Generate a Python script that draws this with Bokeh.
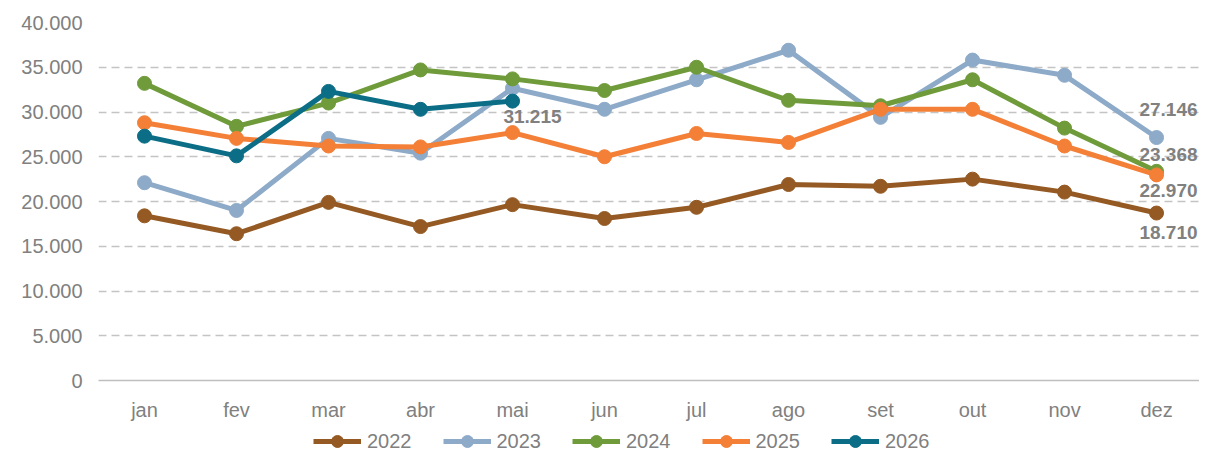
from bokeh.plotting import figure
from bokeh.models import (ColumnDataSource, Range1d, FixedTicker, Legend, LegendItem,
                          CustomJSTickFormatter)
from bokeh.layouts import column
from bokeh.core.properties import value
from bokeh.embed import file_html
from bokeh.resources import INLINE

months = ["jan", "fev", "mar", "abr", "mai", "jun", "jul", "ago", "set", "out", "nov", "dez"]
y2022 = [18400, 16400, 19900, 17200, 19650, 18100, 19350, 21900, 21700, 22500, 21050, 18710]
y2023 = [22100, 19000, 27050, 25400, 32650, 30300, 33600, 36900, 29400, 35800, 34100, 27146]
y2024 = [33200, 28400, 31000, 34700, 33700, 32400, 35000, 31300, 30700, 33600, 28200, 23368]
y2025 = [28800, 27050, 26200, 26100, 27700, 25000, 27600, 26600, 30300, 30300, 26200, 22970]
y2026 = [27300, 25100, 32300, 30300, 31215]
years = ["2022", "2023", "2024", "2025", "2026"]
series = [y2022, y2023, y2024, y2025, y2026]
colors = ["#955A23", "#8DAAC9", "#6F9B3B", "#F47F36", "#0C6E86"]
yticks = [0, 5000, 10000, 15000, 20000, 25000, 30000, 35000, 40000]

FONT = "Liberation Sans"
GRAY = "#808080"

p = figure(width=1199, height=424, output_backend="svg", toolbar_location=None,
           x_range=Range1d(-0.5, 11.467), y_range=Range1d(0, 40000),
           min_border_left=98, min_border_right=0, min_border_top=22, min_border_bottom=44)
p.outline_line_color = None

# axes
p.xaxis.ticker = FixedTicker(ticks=list(range(len(months))))
p.xaxis.major_label_overrides = {i: m for i, m in enumerate(months)}
p.xaxis.major_tick_line_color = None
p.xaxis.minor_tick_line_color = None
p.xaxis.axis_line_color = "#BFBFBF"
p.xaxis.axis_line_width = 1.5
p.xaxis.major_label_text_font = FONT
p.xaxis.major_label_text_font_size = "20px"
p.xaxis.major_label_text_color = GRAY
p.xaxis.major_label_standoff = 12

p.yaxis.ticker = FixedTicker(ticks=yticks)
p.yaxis.formatter = CustomJSTickFormatter(code="return tick.toLocaleString('en-US').replace(/,/g, '.');")
p.yaxis.axis_line_color = None
p.yaxis.major_tick_line_color = None
p.yaxis.minor_tick_line_color = None
p.yaxis.major_label_text_font = FONT
p.yaxis.major_label_text_font_size = "20px"
p.yaxis.major_label_text_color = GRAY
p.yaxis.major_label_standoff = 10

p.xgrid.grid_line_color = None
p.ygrid.grid_line_color = "#C4C4C4"
p.ygrid.grid_line_dash = "8 5"
p.ygrid.grid_line_width = 1.3

# legend panel (separate figure so that the legend is not clipped)
pl = figure(width=1199, height=32, output_backend="svg", toolbar_location=None,
            x_range=Range1d(100, 101), y_range=Range1d(100, 101),
            x_axis_location=None, y_axis_location=None,
            min_border_left=0, min_border_right=0, min_border_top=0, min_border_bottom=0)
pl.outline_line_color = None
pl.grid.grid_line_color = None

items = []
for yr, vals, c in zip(years, series, colors):
    src = ColumnDataSource(dict(x=list(range(len(vals))), y=vals))
    p.line("x", "y", source=src, line_color=c, line_width=5)
    p.scatter("x", "y", source=src, size=14, fill_color=c, line_color=c)
    r1 = pl.line("x", "y", source=src, line_color=c, line_width=5)
    r2 = pl.scatter("x", "y", source=src, size=13, fill_color=c, line_color=c)
    items.append(LegendItem(label=yr, renderers=[r1, r2]))

# data labels
def fmt(v):
    return f"{v:,.0f}".replace(",", ".")

# label of the latest month of 2026
src26 = ColumnDataSource(dict(x=[len(y2026) - 1], y=[y2026[-1]], text=[fmt(y2026[-1])]))
p.text("x", "y", text="text", source=src26, x_offset=20, y_offset=15,
       text_align="center", text_baseline="middle", text_font=value(FONT),
       text_font_style="bold", text_font_size="19px", text_color=GRAY)

# labels of december values
dez_vals = [y2023[-1], y2024[-1], y2025[-1], y2022[-1]]
dez_dy = [-28, -17, 16, 19]
srcd = ColumnDataSource(dict(x=[len(months) - 1] * 4, y=dez_vals,
                             text=[fmt(v) for v in dez_vals], dy=dez_dy))
p.text("x", "y", text="text", source=srcd, x_offset=41, y_offset="dy",
       text_align="right", text_baseline="middle", text_font=value(FONT),
       text_font_style="bold", text_font_size="19px", text_color=GRAY)

legend = Legend(items=items, orientation="horizontal", location=(215, 0),
                glyph_width=48, glyph_height=30, label_standoff=6, spacing=31,
                padding=0, margin=0, border_line_color=None, background_fill_alpha=0,
                label_text_font=FONT, label_text_font_size="20px", label_text_color=GRAY)
pl.add_layout(legend, "center")

layout = column(p, pl, spacing=0)
open("out.html", "w").write(file_html(layout, INLINE))
